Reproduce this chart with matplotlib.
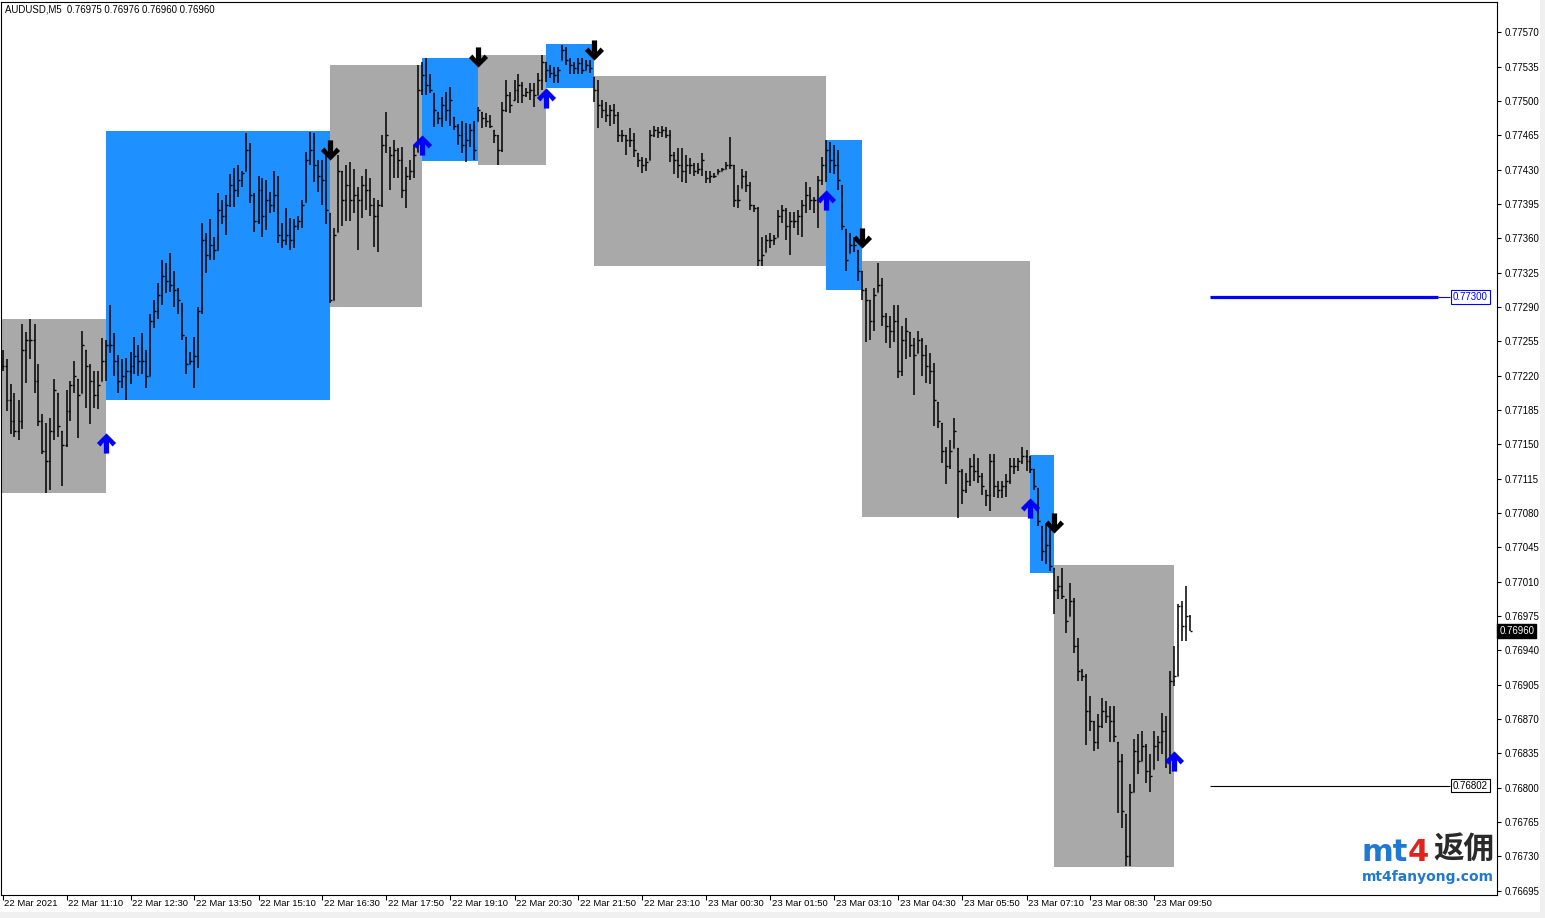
import numpy as np
import matplotlib
matplotlib.use("Agg")
import matplotlib.pyplot as plt
from matplotlib.patches import Rectangle
from matplotlib.path import Path
import matplotlib.transforms as mtransforms

plt.rcParams['font.family'] = ['Liberation Sans', 'DejaVu Sans']

# AUDUSD M5 bars, prices in points above 0.76000 (1 point = 0.00001)
high_pts = [
    1246, 1237, 1212, 1202, 1195, 1273, 1264, 1278, 1273, 1232, 1181, 1172, 1177, 1217, 1202, 1164,
    1205, 1215, 1235, 1217, 1266, 1246, 1232, 1225, 1225, 1258, 1256,
    1292, 1263, 1241, 1237, 1238, 1244, 1259, 1251, 1263, 1246, 1283, 1297, 1314, 1338, 1335, 1345,
    1327, 1309, 1294, 1259, 1244, 1259, 1290, 1376, 1365, 1380, 1361, 1406, 1399, 1404, 1426, 1432,
    1435, 1429, 1467, 1457, 1406, 1424, 1422, 1419, 1407, 1429, 1424, 1376, 1391, 1381, 1380, 1383,
    1399, 1448, 1468, 1467, 1440, 1440, 1447,
    1386, 1371, 1445, 1429, 1435, 1438, 1431, 1412, 1424, 1431, 1422, 1401, 1399, 1465, 1489, 1453,
    1460, 1452, 1453, 1433, 1440, 1455, 1537, 1540, 1544, 1528, 1508, 1489, 1504, 1509, 1514, 1484,
    1477, 1480, 1478, 1477, 1480, 1494, 1489, 1488, 1486, 1470, 1465, 1499, 1521, 1509, 1521, 1528,
    1519, 1513, 1518, 1518, 1529, 1547, 1540, 1537, 1535, 1535, 1557, 1555, 1544, 1540, 1544, 1544,
    1542, 1542, 1524, 1521,
    1501, 1499, 1496, 1497, 1489, 1470, 1465, 1472, 1467, 1447, 1443, 1442, 1470, 1475, 1473, 1475,
    1473, 1470, 1448, 1452, 1452, 1445, 1442, 1437, 1437, 1447, 1429, 1429, 1427, 1431, 1432, 1438,
    1463, 1435, 1414, 1431, 1429, 1417, 1394, 1392, 1361, 1363, 1365, 1363, 1389, 1394, 1391, 1387,
    1387, 1389, 1399, 1417, 1412, 1402, 1424, 1443, 1460, 1458, 1455, 1450, 1414, 1370, 1365, 1361,
    1348, 1327,
    1309, 1297, 1309, 1335, 1320, 1284, 1281, 1292, 1292, 1271, 1279, 1264, 1258, 1266, 1258, 1251,
    1243, 1233, 1193, 1172, 1147, 1154, 1177, 1146, 1125, 1121, 1136, 1140, 1136, 1121, 1103, 1140,
    1140, 1113, 1113, 1120, 1136, 1136, 1136, 1147, 1144, 1138, 1125, 1105, 1067, 1069, 1070,
    1024, 1016, 1024, 992, 1009, 993, 953, 921, 916, 893, 868, 875, 891, 888, 883, 883,
    847, 834, 773, 804, 850, 855, 858, 845, 834, 858, 853, 876, 873, 919, 944, 987,
    990, 1006, 976,
]
low_pts = [
    1225, 1184, 1161, 1157, 1154, 1166, 1213, 1237, 1202, 1169, 1140, 1100, 1103, 1154, 1157, 1108,
    1147, 1174, 1202, 1156, 1202, 1187, 1171, 1187, 1186, 1215, 1215,
    1243, 1220, 1202, 1207, 1195, 1212, 1222, 1220, 1222, 1207, 1220, 1269, 1278, 1292, 1304, 1305,
    1290, 1283, 1256, 1222, 1232, 1207, 1228, 1283, 1325, 1338, 1338, 1348, 1375, 1363, 1392, 1392,
    1402, 1412, 1429, 1396, 1366, 1375, 1361, 1368, 1386, 1387, 1355, 1350, 1353, 1348, 1350, 1368,
    1371, 1397, 1435, 1417, 1407, 1394, 1375,
    1294, 1297, 1366, 1373, 1378, 1378, 1386, 1348, 1381, 1389, 1383, 1351, 1346, 1392, 1447, 1409,
    1422, 1421, 1401, 1391, 1419, 1422, 1448, 1506, 1506, 1508, 1473, 1477, 1473, 1480, 1475, 1470,
    1455, 1447, 1438, 1453, 1440, 1480, 1472, 1473, 1472, 1457, 1435, 1448, 1489, 1488, 1501, 1498,
    1498, 1504, 1501, 1494, 1506, 1511, 1519, 1523, 1518, 1518, 1542, 1537, 1528, 1528, 1528, 1528,
    1532, 1529, 1499, 1472,
    1483, 1479, 1475, 1477, 1458, 1458, 1445, 1453, 1443, 1433, 1427, 1429, 1440, 1463, 1462, 1463,
    1462, 1438, 1426, 1422, 1417, 1416, 1426, 1424, 1426, 1424, 1416, 1416, 1421, 1426, 1429, 1431,
    1431, 1392, 1391, 1411, 1407, 1389, 1387, 1332, 1332, 1346, 1350, 1353, 1361, 1376, 1358, 1343,
    1371, 1363, 1361, 1386, 1389, 1386, 1371, 1414, 1417, 1427, 1426, 1409, 1368, 1327, 1345, 1346,
    1317, 1297,
    1254, 1256, 1266, 1305, 1271, 1253, 1248, 1254, 1218, 1220, 1237, 1239, 1200, 1243, 1220, 1213,
    1212, 1169, 1167, 1131, 1110, 1125, 1146, 1075, 1089, 1100, 1108, 1113, 1111, 1098, 1087, 1082,
    1096, 1095, 1095, 1096, 1110, 1120, 1123, 1130, 1123, 1121, 1103, 1067, 1031, 1028, 1021,
    977, 992, 992, 958, 975, 937, 909, 909, 844, 858, 837, 839, 861, 866, 847, 847,
    774, 759, 720, 720, 796, 814, 827, 805, 796, 819, 827, 834, 820, 814, 904, 914,
    950, 950, 960,
]
close_pts = [
    1230, 1195, 1174, 1164, 1174, 1246, 1256, 1256, 1215, 1174, 1143, 1133, 1164, 1205, 1169, 1149,
    1184, 1210, 1220, 1200, 1251, 1230, 1215, 1200, 1210, 1235, 1251,
    1251, 1235, 1215, 1220, 1225, 1230, 1240, 1235, 1235, 1220, 1276, 1286, 1302, 1322, 1317, 1312,
    1307, 1297, 1261, 1232, 1235, 1240, 1286, 1358, 1343, 1353, 1348, 1389, 1383, 1394, 1414, 1409,
    1419, 1427, 1450, 1404, 1378, 1409, 1383, 1399, 1394, 1404, 1363, 1358, 1363, 1358, 1373, 1378,
    1394, 1440, 1450, 1435, 1424, 1419, 1389,
    1297, 1363, 1429, 1399, 1414, 1399, 1404, 1399, 1414, 1409, 1394, 1383, 1394, 1455, 1465, 1445,
    1450, 1440, 1409, 1424, 1429, 1445, 1511, 1526, 1516, 1511, 1491, 1483, 1496, 1491, 1501, 1475,
    1465, 1455, 1460, 1470, 1450, 1491, 1483, 1480, 1475, 1465, 1450, 1491, 1506, 1496, 1511, 1516,
    1506, 1509, 1511, 1506, 1521, 1540, 1532, 1529, 1526, 1532, 1552, 1542, 1537, 1534, 1539, 1532,
    1537, 1534, 1511, 1496,
    1491, 1486, 1491, 1486, 1465, 1465, 1460, 1460, 1450, 1440, 1435, 1438, 1465, 1470, 1468, 1470,
    1465, 1445, 1440, 1435, 1429, 1435, 1435, 1429, 1431, 1440, 1421, 1424, 1424, 1429, 1431, 1435,
    1435, 1399, 1399, 1424, 1414, 1394, 1391, 1338, 1343, 1358, 1358, 1360, 1383, 1389, 1373, 1378,
    1378, 1383, 1394, 1404, 1399, 1399, 1419, 1435, 1450, 1440, 1435, 1419, 1373, 1338, 1353, 1353,
    1327, 1307,
    1297, 1276, 1302, 1312, 1281, 1271, 1266, 1276, 1225, 1256, 1266, 1251, 1241, 1256, 1241, 1230,
    1225, 1195, 1174, 1143, 1128, 1143, 1164, 1123, 1103, 1113, 1128, 1123, 1118, 1108, 1098, 1133,
    1108, 1103, 1108, 1113, 1128, 1128, 1133, 1138, 1133, 1125, 1108, 1072, 1041, 1047, 1026,
    1001, 1006, 995, 970, 990, 944, 919, 914, 878, 868, 847, 863, 878, 873, 868, 853,
    827, 776, 730, 796, 837, 827, 842, 817, 812, 842, 847, 858, 827, 909, 914, 985,
    965, 975, 960,
]

time_labels = [
    "22 Mar 2021", "22 Mar 11:10", "22 Mar 12:30", "22 Mar 13:50", "22 Mar 15:10",
    "22 Mar 16:30", "22 Mar 17:50", "22 Mar 19:10", "22 Mar 20:30", "22 Mar 21:50",
    "22 Mar 23:10", "23 Mar 00:30", "23 Mar 01:50", "23 Mar 03:10", "23 Mar 04:30",
    "23 Mar 05:50", "23 Mar 07:10", "23 Mar 08:30", "23 Mar 09:50",
]
bars_per_label = 16

# zones between signals (bar index range and price range in points)
zone_start = [-2, 26, 82, 105, 119, 136, 148, 206, 215, 257, 263]
zone_end = [26, 82, 105, 119, 136, 148, 206, 215, 257, 263, 293]
zone_top = [1278, 1469, 1537, 1544, 1547, 1558, 1525, 1460, 1337, 1139, 1027]
zone_bottom = [1100, 1195, 1290, 1439, 1435, 1513, 1332, 1307, 1076, 1019, 719]
zone_up = [False, True, False, True, False, True, False, True, False, True, False]

up_idx = [26, 105, 136, 206, 257, 293]
up_pts = [1151, 1455, 1503, 1399, 1085, 827]
down_idx = [82, 119, 148, 215, 263]
down_pts = [1450, 1545, 1552, 1360, 1070]

levels = [0.77300, 0.76802]
level_from = 302
last_price = 0.76960
title = "AUDUSD,M5  0.76975 0.76976 0.76960 0.76960"


def pts(v):
    return 0.76 + np.asarray(v, dtype=float) / 1e5


def main():
    W, H = 1545, 918
    fig = plt.figure(figsize=(W / 100, H / 100), dpi=100)
    fig.patch.set_facecolor("white")
    ax = fig.add_axes([1 / W, (H - 895) / H, 1496 / W, 893 / H])
    ax.set_xlim(-0.375, 373.625)
    ax.set_ylim(0.766906, 0.776009)

    hi, lo, cl = pts(high_pts), pts(low_pts), pts(close_pts)
    x = np.arange(len(hi))
    op = np.clip(np.r_[cl[0], cl[:-1]], lo, hi)
    op[-1] = 0.76975

    # zones
    for s, e, t, b, up in zip(zone_start, zone_end, zone_top, zone_bottom, zone_up):
        ax.add_patch(Rectangle((s, pts(b)), e - s, pts(t) - pts(b),
                               facecolor="#1E90FF" if up else "#A9A9A9",
                               edgecolor="none", zorder=1))

    # OHLC bars
    ax.vlines(x, lo, hi, color="black", lw=1.1, zorder=3)
    ax.hlines(op, x - 0.4, x, color="black", lw=1.0, zorder=3)
    ax.hlines(cl, x, x + 0.4, color="black", lw=1.0, zorder=3)

    # signal arrows (bold wingdings-like)
    up_v = [(0, 1), (0.95, 0.05), (0.6, -0.3), (0.26, 0.12), (0.26, -1), (-0.26, -1),
            (-0.26, 0.12), (-0.6, -0.3), (-0.95, 0.05), (0, 1)]
    up_marker = Path(up_v)
    down_marker = Path([(a, -b) for a, b in up_v])
    ax.plot(up_idx, pts(up_pts), ls="none", marker=up_marker, ms=14.5,
            color="#0000FF", mew=0, zorder=4)
    ax.plot(down_idx, pts(down_pts), ls="none", marker=down_marker, ms=14.5,
            color="black", mew=0, zorder=4)

    # horizontal levels
    ax.hlines(levels[0], level_from, 359, color="#0000FF", lw=2.3, zorder=3)
    ax.hlines(levels[0], 359, 362, color="#0000FF", lw=0.8, zorder=3)
    ax.hlines(levels[1], level_from, 362, color="black", lw=0.8, zorder=3)
    for lv, c in zip(levels, ["#0000FF", "black"]):
        ax.text(367, lv, f"{lv:.5f}", ha="center", va="center", fontsize=7, color=c,
                zorder=5, bbox=dict(boxstyle="square,pad=0.18", fc="white", ec=c, lw=0.8))

    # price axis on the right
    yt = np.round(np.arange(0.76695, 0.775701, 0.00035), 5)
    ax.yaxis.tick_right()
    ax.set_yticks(yt)
    ax.set_yticklabels([f"{v:.5f}" for v in yt])
    ax.tick_params(axis="y", direction="out", length=3, width=0.8, pad=2.5, labelsize=6.9)

    trans = mtransforms.blended_transform_factory(ax.transAxes, ax.transData)
    ax.text(1.0015, last_price, f"{last_price:.5f}", transform=trans, ha="left", va="center",
            fontsize=6.9, color="white", zorder=6,
            bbox=dict(boxstyle="square,pad=0.2", fc="black", ec="black"))

    # time axis
    xt = np.arange(len(time_labels)) * bars_per_label
    ax.set_xticks(xt)
    ax.set_xticklabels([])
    ax.tick_params(axis="x", direction="out", length=3.5, width=0.8)
    xtrans = mtransforms.offset_copy(
        mtransforms.blended_transform_factory(ax.transData, ax.transAxes),
        fig=fig, x=1.5, y=-4, units="dots")
    for pos, lab in zip(xt, time_labels):
        ax.text(pos, 0, lab, transform=xtrans, ha="left", va="top", fontsize=6.8,
                clip_on=False)

    for sp in ax.spines.values():
        sp.set_linewidth(0.8)
        sp.set_color("black")

    fig.text(5 / W, 1 - 9 / H, title, ha="left", va="center", fontsize=6.9)

    # watermark
    fig.text(1361 / W, 1 - 861 / H, "mt", ha="left", va="baseline", fontsize=22,
             fontweight="bold", family="DejaVu Sans", color="#1F78D1")
    fig.text(1408 / W, 1 - 861 / H, "4", ha="left", va="baseline", fontsize=22,
             fontweight="bold", family="DejaVu Sans", color="#E3231B")
    fig.text(1433 / W, 1 - 849 / H, "返佣", ha="left", va="center", fontsize=22,
             fontweight="bold", family=["Noto Sans CJK SC", "DejaVu Sans"], color="#2A2A2A")
    fig.text(1362 / W, 1 - 877 / H, "mt4fanyong.com", ha="left", va="center", fontsize=10,
             fontweight="bold", family="DejaVu Sans", color="#1F78D1")

    # window frame strips
    fig.add_artist(Rectangle((0, 0), 1, 6 / H, transform=fig.transFigure,
                             facecolor="#F0F0F0", edgecolor="none"))
    fig.add_artist(Rectangle((1 - 5 / W, 0), 5 / W, 1, transform=fig.transFigure,
                             facecolor="#F0F0F0", edgecolor="none"))

    fig.savefig("out.png", dpi=100)


if __name__ == '__main__':
    main()
